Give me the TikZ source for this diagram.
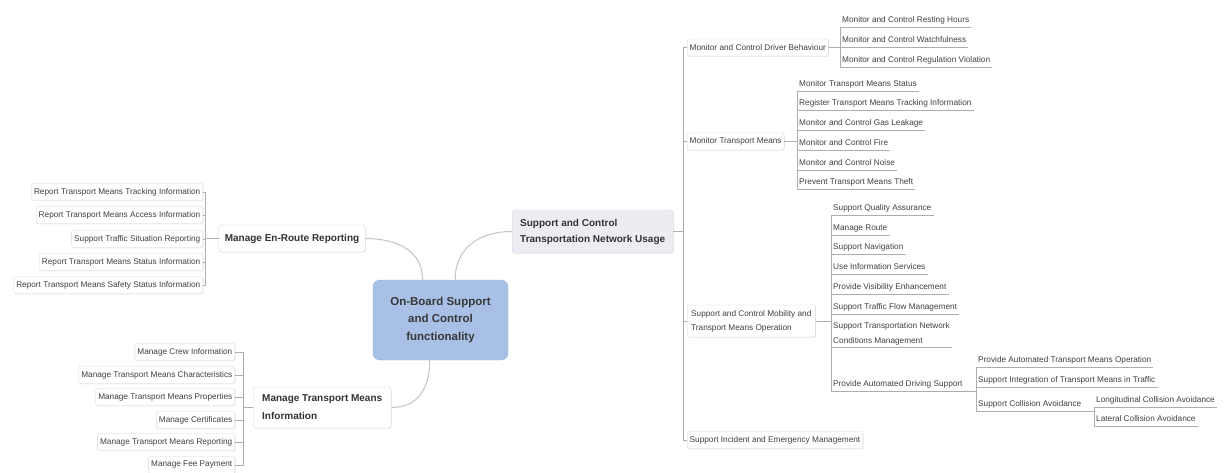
\documentclass[tikz,border=0pt]{standalone}
\usepackage{fontspec}
\setmainfont{Liberation Sans}
\usetikzlibrary{shadows}
\definecolor{rootfill}{HTML}{A8C0E6}
\definecolor{rootedge}{HTML}{9AB2DA}
\definecolor{usagefill}{HTML}{ECEDF3}
\definecolor{usageedge}{HTML}{D4D6DF}

\begin{document}
\begin{tikzpicture}[x=1pt,y=-1pt,
  link/.style={draw=black!32,line width=0.8pt},
  branch/.style={draw=black!22,line width=1.1pt},
  root/.style={draw=rootedge,fill=rootfill,rounded corners=7pt,align=center,minimum width=135pt,minimum height=80pt,text=black!78,font=\fontsize{11.5}{17.5}\selectfont\bfseries},
  topic/.style={draw=black!16,fill=white,rounded corners=3pt,align=left,text=black!80,font=\fontsize{10}{16}\selectfont\bfseries,drop shadow={shadow xshift=0.8pt,shadow yshift=-0.8pt,opacity=0.12}},
  box/.style={draw=black!16,fill=white,rounded corners=2pt,inner xsep=2.5pt,minimum height=17pt,align=left,text=black!75,font=\fontsize{8.25}{14}\selectfont,drop shadow={shadow xshift=0.8pt,shadow yshift=-0.8pt,opacity=0.15}},
  subtext/.style={inner xsep=2pt,inner ysep=2.5pt,anchor=west,align=left,text=black!75,font=\fontsize{8.25}{15}\selectfont},
  sub/.style={subtext,text height=6.5pt,text depth=2pt}
]
\useasboundingbox (0,0) rectangle (1225,472);

  \node[root] (a0) at (440.5,320) {On-Board Support\\and Control\\functionality};
 \node[topic,inner xsep=6pt,minimum height=27pt] (a1) at (292,238.5) {Manage En-Route Reporting};
 \node[topic,fill=usagefill,draw=usageedge,anchor=west,inner xsep=8pt,minimum height=43pt] (a2) at (512,231.5) {Support and Control\\Transportation Network Usage};
  \node[topic,anchor=west,inner xsep=9pt,minimum height=41pt,font=\fontsize{10}{18}\selectfont\bfseries] (a3) at (253,407.5) {Manage Transport Means\\Information};
 \draw[branch] (a0.114) .. controls +(0,-30) and +(30,0) .. (a1.east);
 \draw[branch] (a0.70) .. controls +(0,-30) and +(-35,0) .. (a2.west);
 \draw[branch] (a0.255) .. controls +(0,30) and +(25,0) .. (a3.east);

 \node[box,anchor=east] (l1) at (203,192) {Report Transport Means Tracking Information};
 \node[box,anchor=east] (l2) at (203,215) {Report Transport Means Access Information};
  \node[box,anchor=east] (l3) at (203,239) {Support Traffic Situation Reporting};
 \node[box,anchor=east] (l4) at (203,262) {Report Transport Means Status Information};
 \node[box,anchor=east] (l5) at (203,285) {Report Transport Means Safety Status Information};
 \draw[link] (a1.west) -- ++(-13,0) |- (l1.east);
 \draw[link] (a1.west) -- ++(-13,0) |- (l2.east);
 \draw[link] (a1.west) -- ++(-13,0) |- (l3.east);
 \draw[link] (a1.west) -- ++(-13,0) |- (l4.east);
 \draw[link] (a1.west) -- ++(-13,0) |- (l5.east);

 \node[box,anchor=east] (k1) at (235,352) {Manage Crew Information};
 \node[box,anchor=east] (k2) at (235,375) {Manage Transport Means Characteristics};
  \node[box,anchor=east] (k3) at (235,397) {Manage Transport Means Properties};
 \node[box,anchor=east] (k4) at (235,420) {Manage Certificates};
 \node[box,anchor=east] (k5) at (235,442) {Manage Transport Means Reporting};
   \node[box,anchor=east] (k6) at (235,465) {Manage Fee Payment};
 \draw[link] (a3.west) -- ++(-10,0) |- (k1.east);
 \draw[link] (a3.west) -- ++(-10,0) |- (k2.east);
 \draw[link] (a3.west) -- ++(-10,0) |- (k3.east);
 \draw[link] (a3.west) -- ++(-10,0) |- (k4.east);
 \draw[link] (a3.west) -- ++(-10,0) |- (k5.east);
 \draw[link] (a3.west) -- ++(-10,0) |- (k6.east);

 \node[box,anchor=west] (c1) at (687,47.5) {Monitor and Control Driver Behaviour};
 \node[box,anchor=west] (c2) at (687,141.5) {Monitor Transport Means};
  \node[box,anchor=west,inner xsep=4pt,minimum height=32pt] (c3) at (687,321) {Support and Control Mobility and\\Transport Means Operation};
 \node[box,anchor=west] (c4) at (687,440) {Support Incident and Emergency Management};
 \draw[link] (a2.east) -- ++(10,0) |- (c1.west);
 \draw[link] (a2.east) -- ++(10,0) |- (c2.west);
 \draw[link] (a2.east) -- ++(10,0) |- (c3.west);
 \draw[link] (a2.east) -- ++(10,0) |- (c4.west);

 \node[sub] (d1) at (840,20) {Monitor and Control Resting Hours};
 \node[sub] (d2) at (840,40) {Monitor and Control Watchfulness};
 \node[sub] (d3) at (840,60) {Monitor and Control Regulation Violation};
 \draw[link] (c1.east) -- (c1.east -| d1.west) |- (d1.south east);
 \draw[link] (c1.east) -- (c1.east -| d2.west) |- (d2.south east);
 \draw[link] (c1.east) -- (c1.east -| d3.west) |- (d3.south east);

 \node[sub] (e1) at (797,84) {Monitor Transport Means Status};
 \node[sub] (e2) at (797,103) {Register Transport Means Tracking Information};
  \node[sub] (e3) at (797,123) {Monitor and Control Gas Leakage};
 \node[sub] (e4) at (797,143) {Monitor and Control Fire};
 \node[sub] (e5) at (797,163) {Monitor and Control Noise};
 \node[sub] (e6) at (797,182) {Prevent Transport Means Theft};
 \draw[link] (c2.east) -- (c2.east -| e1.west) |- (e1.south east);
 \draw[link] (c2.east) -- (c2.east -| e2.west) |- (e2.south east);
 \draw[link] (c2.east) -- (c2.east -| e3.west) |- (e3.south east);
 \draw[link] (c2.east) -- (c2.east -| e4.west) |- (e4.south east);
 \draw[link] (c2.east) -- (c2.east -| e5.west) |- (e5.south east);
 \draw[link] (c2.east) -- (c2.east -| e6.west) |- (e6.south east);

 \node[sub] (f1) at (831,208) {Support Quality Assurance};
 \node[sub] (f2) at (831,228) {Manage Route};
 \node[sub] (f3) at (831,247) {Support Navigation};
 \node[sub] (f4) at (831,267) {Use Information Services};
  \node[sub] (f5) at (831,287) {Provide Visibility Enhancement};
 \node[sub] (f6) at (831,307) {Support Traffic Flow Management};
 \node[subtext] (f7) at (831,333.5) {Support Transportation Network\\Conditions Management};
 \node[sub] (f8) at (831,384) {Provide Automated Driving Support};
 \draw[link] (c3.east) -- (c3.east -| f1.west) |- (f1.south east);
 \draw[link] (c3.east) -- (c3.east -| f2.west) |- (f2.south east);
 \draw[link] (c3.east) -- (c3.east -| f3.west) |- (f3.south east);
 \draw[link] (c3.east) -- (c3.east -| f4.west) |- (f4.south east);
 \draw[link] (c3.east) -- (c3.east -| f5.west) |- (f5.south east);
 \draw[link] (c3.east) -- (c3.east -| f6.west) |- (f6.south east);
 \draw[link] (c3.east) -- (c3.east -| f7.west) |- (f7.south east);
 \draw[link] (c3.east) -- (c3.east -| f8.west) |- (f8.south east);

 \node[sub] (g1) at (976,360) {Provide Automated Transport Means Operation};
 \node[sub] (g2) at (976,380) {Support Integration of Transport Means in Traffic};
 \node[sub] (g3) at (976,404) {Support Collision Avoidance};
 \draw[link] (f8.south east) -- (f8.south east -| g1.west) |- (g1.south east);
 \draw[link] (f8.south east) -- (f8.south east -| g2.west) |- (g2.south east);
 \draw[link] (f8.south east) -- (f8.south east -| g3.west) |- (g3.south east);

 \node[sub] (h1) at (1094,400) {Longitudinal Collision Avoidance};
 \node[sub] (h2) at (1094,419) {Lateral Collision Avoidance};
 \draw[link] (g3.south east) -- (g3.south east -| h1.west) |- (h1.south east);
 \draw[link] (g3.south east) -- (g3.south east -| h2.west) |- (h2.south east);

\end{tikzpicture}
\end{document}
